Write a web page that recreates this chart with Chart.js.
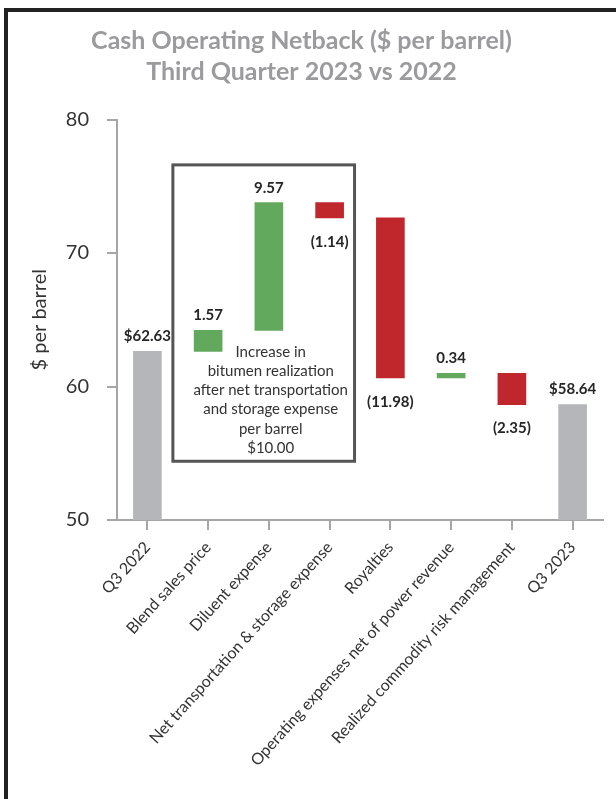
<!DOCTYPE html>
<html>
<head>
<meta charset="utf-8">
<script src="https://cdn.jsdelivr.net/npm/chart.js@4/dist/chart.umd.min.js"></script>
<style>
  html, body { margin: 0; padding: 0; background: #fff; }
  #wrap { position: relative; width: 616px; height: 799px; overflow: hidden; }
  #frame { position: absolute; left: 4px; top: 8px; width: 640px; height: 820px;
           border-left: 4px solid #222; border-top: 4px solid #222; box-sizing: border-box; }
  #chartBox { position: absolute; left: 0; top: 0; width: 616px; height: 799px; }
</style>
</head>
<body>
<div id="wrap">
  <div id="frame"></div>
  <div id="chartBox"><canvas id="netback"></canvas></div>
</div>
<script>
// DONNEES
const categories = ['Q3 2022', 'Blend sales price', 'Diluent expense', 'Net transportation & storage expense',
    'Royalties', 'Operating expenses net of power revenue', 'Realized commodity risk management', 'Q3 2023'];
const startValue = 62.63;
const changes = [1.57, 9.57, -1.14, -11.98, 0.34, -2.35];
const endValue = 58.64;
const yTicks = [50, 60, 70, 80];
const boxText = ['Increase in', 'bitumen realization', 'after net transportation',
    'and storage expense', 'per barrel', '$10.00'];

const GREY = '#B5B6B9', GREEN = '#62A95E', RED = '#C0272D';
const FONT = 'Lato, "Open Sans", sans-serif';

// barres flottantes
let ranges = [[yTicks[0], startValue]];
let colors = [GREY];
let labels = ['$' + startValue.toFixed(2)];
let run = startValue;
changes.forEach(c => {
    const next = Math.round((run + c) * 100) / 100;
    ranges.push([run, next]);
    colors.push(c >= 0 ? GREEN : RED);
    labels.push(c >= 0 ? c.toFixed(2) : '(' + Math.abs(c).toFixed(2) + ')');
    run = next;
});
ranges.push([yTicks[0], endValue]);
colors.push(GREY);
labels.push('$' + endValue.toFixed(2));

// étiquettes des valeurs
const valueLabels = {
    id: 'valueLabels',
    afterDatasetsDraw(chart) {
        const ctx = chart.ctx;
        const meta = chart.getDatasetMeta(0);
        ctx.save();
        ctx.font = 'bold 15px ' + FONT;
        ctx.fillStyle = '#262626';
        ctx.textAlign = 'center';
        ctx.textBaseline = 'middle';
        meta.data.forEach((bar, i) => {
            const top = Math.min(bar.y, bar.base);
            const bottom = Math.max(bar.y, bar.base);
            const isNeg = i > 0 && i <= changes.length && changes[i - 1] < 0;
            if (isNeg) ctx.fillText(labels[i], bar.x, bottom + 24);
            else ctx.fillText(labels[i], bar.x, top - 15);
        });
        ctx.restore();
    }
};

// encadré "Increase in bitumen realization"
const noteBox = {
    id: 'noteBox',
    afterDraw(chart) {
        const ctx = chart.ctx;
        const x = chart.scales.x, y = chart.scales.y;
        const left = x.getPixelForValue(0.42), right = x.getPixelForValue(3.41);
        const top = y.getPixelForValue(76.6), bottom = y.getPixelForValue(54.4);
        ctx.save();
        ctx.strokeStyle = '#555';
        ctx.lineWidth = 3;
        ctx.strokeRect(left, top, right - left, bottom - top);
        ctx.font = '15px ' + FONT;
        ctx.fillStyle = '#333';
        ctx.textAlign = 'center';
        ctx.textBaseline = 'middle';
        const cx = (left + right) / 2 + 7;
        boxText.forEach((t, i) => ctx.fillText(t, cx, 352 + i * 19.2));
        ctx.restore();
    }
};

const ctx = document.getElementById('netback').getContext('2d');
new Chart(ctx, {
    type: 'bar',
    data: {
        labels: categories,
        datasets: [{
            data: ranges,
            backgroundColor: colors,
            borderWidth: 0,
            barThickness: 28
        }]
    },
    options: {
        responsive: true,
        maintainAspectRatio: false,
        animation: false,
        layout: { padding: { left: 0, right: 13, top: 0, bottom: 0 } },
        plugins: {
            legend: { display: false },
            tooltip: { enabled: false },
            title: {
                display: true,
                text: ['Cash Operating Netback ($ per barrel)', 'Third Quarter 2023 vs 2022'],
                color: '#9B9B9E',
                font: { family: FONT, size: 25, weight: 'bold', lineHeight: 1.25 },
                padding: { top: 25, bottom: 32 }
            }
        },
        scales: {
            x: {
                grid: { display: true, drawOnChartArea: false, offset: false, color: '#A6A6A6', lineWidth: 2, tickLength: 10 },
                border: { color: '#A6A6A6', width: 2 },
                ticks: {
                    autoSkip: false, maxRotation: 48, minRotation: 48, padding: 8,
                    color: '#333', font: { family: FONT, size: 16 }
                },
                afterFit(scale) { scale.height = 279; }
            },
            y: {
                min: yTicks[0],
                max: yTicks[yTicks.length - 1],
                afterBuildTicks(scale) { scale.ticks = yTicks.map(v => ({ value: v })); },
                grid: { display: true, drawOnChartArea: false, color: '#A6A6A6', lineWidth: 2, tickLength: 10 },
                border: { color: '#A6A6A6', width: 2 },
                ticks: { padding: 18, color: '#333', font: { family: FONT, size: 20 } },
                title: {
                    display: true, text: '$ per barrel', color: '#333',
                    font: { family: FONT, size: 20 }, padding: { top: 28, bottom: 0 }
                },
                afterFit(scale) { scale.width = 117; }
            }
        }
    },
    plugins: [valueLabels, noteBox]
});
</script>
</body>
</html>
